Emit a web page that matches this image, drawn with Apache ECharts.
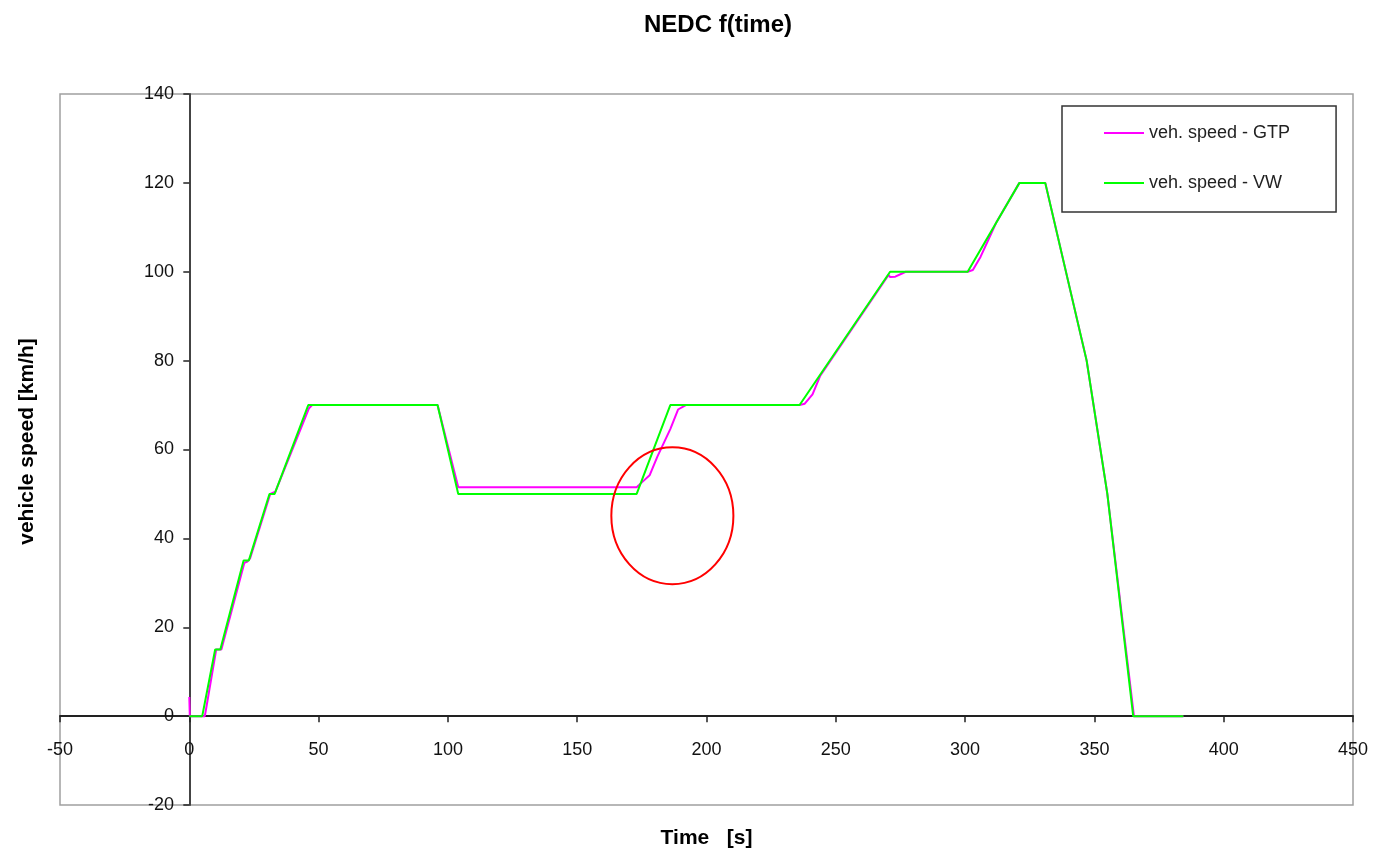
<!DOCTYPE html>
<html>
<head>
<meta charset="utf-8">
<script src="https://cdn.jsdelivr.net/npm/echarts@6/dist/echarts.min.js"></script>
<style>
html,body{margin:0;padding:0;background:#fff;}
#main{width:1374px;height:853px;}
</style>
</head>
<body>
<div id="main"></div>
<script>
// Time ticks and speed ticks
const xTicks = [-50, 0, 50, 100, 150, 200, 250, 300, 350, 400, 450];
const yTicks = [-20, 0, 20, 40, 60, 80, 100, 120, 140];

// veh. speed - GTP  [time s, speed km/h]
const gtpTime  = [0, 0.2, 6, 6.6, 10.4, 12.4, 21.3, 22.5, 23.5, 31.3, 33.3, 46.3, 47.5, 96, 104, 173, 175, 178, 181, 186, 189, 192, 236, 238, 241, 244, 270.4, 271, 273, 275.6, 277, 301, 303, 306, 309, 312, 321, 331, 347, 355, 365.3, 384.4];
const gtpSpeed = [4.3, 0, 0, 2, 15, 15, 34.5, 34.8, 35.5, 50, 50.5, 69.3, 70, 70, 51.5, 51.5, 52.6, 54.2, 58.4, 64.6, 69, 70, 70, 70.3, 72.4, 76.6, 99.3, 98.8, 98.9, 99.6, 100, 100, 100.4, 103.4, 107.2, 111, 120, 120, 80, 50, 0, 0];

// veh. speed - VW  [time s, speed km/h]
const vwTime  = [0, 5, 10, 12, 21, 23, 31, 33, 46, 96, 104, 173, 186, 236, 271, 301, 321, 331, 347, 355, 365, 384.4];
const vwSpeed = [0, 0, 15, 15, 35, 35, 50, 50, 70, 70, 50, 50, 70, 70, 100, 100, 120, 120, 80, 50, 0, 0];

// annotation ellipse (data units: centre time, centre speed, half-width s, half-height km/h)
const markCentre = [186.8, 45.1];
const markRadius = [23.6, 15.4];

const gtpData = gtpTime.map((t, i) => [t, gtpSpeed[i]]);
const vwData = vwTime.map((t, i) => [t, vwSpeed[i]]);

const FONT = '"Liberation Sans", Arial, sans-serif';
const chart = echarts.init(document.getElementById('main'), null, {renderer: 'canvas'});

chart.setOption({
  animation: false,
  backgroundColor: '#ffffff',
  title: {
    text: 'NEDC f(time)',
    left: 639,
    top: 8,
    textStyle: {fontFamily: FONT, fontSize: 24, fontWeight: 'bold', color: '#000'}
  },
  legend: {
    orient: 'vertical',
    left: 1062,
    top: 106,
    padding: [18, 46, 20, 42],
    itemGap: 32,
    itemWidth: 40,
    itemHeight: 2,
    icon: 'rect',
    borderColor: '#333',
    borderWidth: 1.5,
    backgroundColor: '#fff',
    textStyle: {fontFamily: FONT, fontSize: 18, color: '#222'},
    data: ['veh. speed - GTP', 'veh. speed - VW']
  },
  grid: {
    left: 60, right: 21, top: 94, bottom: 48,
    show: true,
    borderColor: '#a0a0a0',
    borderWidth: 1.5,
    containLabel: false,
    outerBoundsMode: 'none'
  },
  xAxis: {
    type: 'value',
    min: xTicks[0],
    max: xTicks[xTicks.length - 1],
    interval: 50,
    name: 'Time   [s]',
    nameLocation: 'middle',
    nameGap: 23,
    nameTextStyle: {fontFamily: FONT, fontSize: 21, fontWeight: 'bold', color: '#000'},
    axisLine: {onZero: true, lineStyle: {color: '#222', width: 2}},
    axisTick: {show: true, inside: false, length: 6, lineStyle: {color: '#222', width: 1.5}},
    axisLabel: {fontFamily: FONT, fontSize: 18, color: '#111', margin: -64, showMinLabel: true, showMaxLabel: true},
    splitLine: {show: false}
  },
  yAxis: {
    type: 'value',
    min: yTicks[0],
    max: yTicks[yTicks.length - 1],
    interval: 20,
    name: 'vehicle speed [km/h]',
    nameLocation: 'middle',
    nameGap: 22,
    nameTextStyle: {fontFamily: FONT, fontSize: 21, fontWeight: 'bold', color: '#000', padding: [0, 0, 0, 16]},
    axisLine: {onZero: true, lineStyle: {color: '#444', width: 2}},
    axisTick: {show: true, inside: false, length: 6, lineStyle: {color: '#222', width: 1.5}},
    axisLabel: {fontFamily: FONT, fontSize: 18, color: '#111', margin: -114, showMinLabel: true, showMaxLabel: true},
    splitLine: {show: false}
  },
  series: [
    {
      name: 'veh. speed - GTP',
      type: 'line',
      data: gtpData,
      symbol: 'none',
      lineStyle: {color: '#ff00ff', width: 2},
      itemStyle: {color: '#ff00ff'},
      z: 2
    },
    {
      name: 'veh. speed - VW',
      type: 'line',
      data: vwData,
      symbol: 'none',
      lineStyle: {color: '#00ff00', width: 2},
      itemStyle: {color: '#00ff00'},
      z: 3
    }
  ]
});

const c = chart.convertToPixel({xAxisIndex: 0, yAxisIndex: 0}, markCentre);
const e = chart.convertToPixel({xAxisIndex: 0, yAxisIndex: 0}, [markCentre[0] + markRadius[0], markCentre[1] + markRadius[1]]);
chart.setOption({
  graphic: [{
    type: 'ellipse',
    shape: {cx: c[0], cy: c[1], rx: Math.abs(e[0] - c[0]), ry: Math.abs(e[1] - c[1])},
    style: {fill: 'none', stroke: '#ff0000', lineWidth: 2},
    z: 100
  }]
});
</script>
</body>
</html>
